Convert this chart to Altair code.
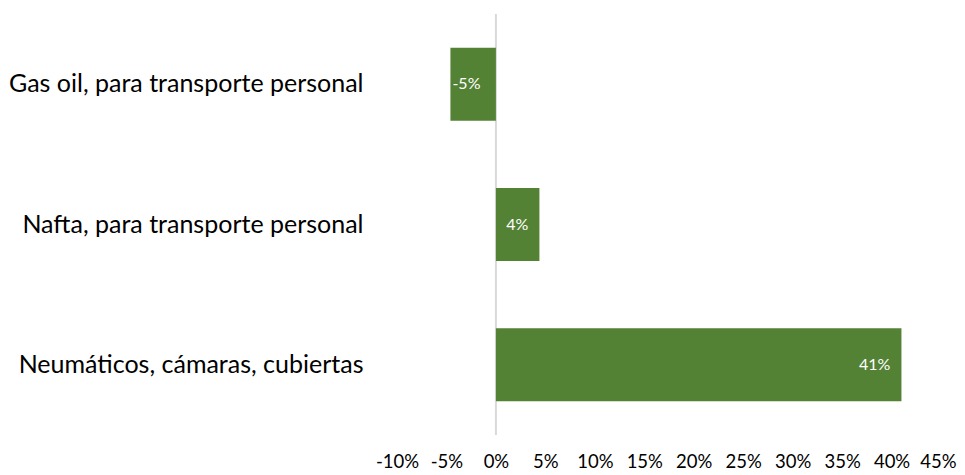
import altair as alt
import pandas as pd

categories = ["Gas oil, para transporte personal",
              "Nafta, para transporte personal",
              "Neumáticos, cámaras, cubiertas"]
values = [-0.046, 0.044, 0.41]
tick_values = [-0.10, -0.05, 0.0, 0.05, 0.10, 0.15, 0.20, 0.25, 0.30, 0.35, 0.40, 0.45]

df = pd.DataFrame({"cat": categories, "val": values})

FONT = "Lato"
GREEN = "#548235"
MINUS_FIX = "replace(format(datum.value, '.0%'), '\u2212', '-')"

x_scale = alt.Scale(domain=[-0.10, 0.45], nice=False, zero=False)
y_enc = alt.Y("cat:N", sort=categories, title=None,
              scale=alt.Scale(paddingInner=0.48, paddingOuter=0.24),
              axis=alt.Axis(domain=False, ticks=False, labelFontSize=25,
                            labelFont=FONT, labelColor="#000000",
                            labelPadding=34, labelLimit=400))

base = alt.Chart(df).transform_calculate(
    lbl="replace(format(datum.val, '.0%'), '\u2212', '-')")

bars = base.mark_bar(color=GREEN).encode(
    x=alt.X("val:Q", scale=x_scale, title=None,
            axis=alt.Axis(values=tick_values, labelExpr=MINUS_FIX, grid=False,
                          domain=False, ticks=False, labelFontSize=18.5,
                          labelFont=FONT, labelColor="#000000",
                          labelPadding=17, labelFlush=False,
                          labelOffset={"condition": {"test": "datum.value > 0.44", "value": -3},
                                       "value": 0})),
    y=y_enc,
)

zero = alt.Chart(pd.DataFrame({"z": [0.0]})).mark_rule(
    color="#d9d9d9", strokeWidth=2).encode(x=alt.X("z:Q", scale=x_scale))

pos_text = base.transform_filter("datum.val >= 0").mark_text(
    align="right", baseline="middle", dx=-11, color="white",
    font=FONT, fontSize=16).encode(
    x=alt.X("val:Q", scale=x_scale),
    y=alt.Y("cat:N", sort=categories),
    text=alt.Text("lbl:N"))

neg_text = base.transform_filter("datum.val < 0").mark_text(
    align="left", baseline="middle", dx=2, color="white",
    font=FONT, fontSize=16).encode(
    x=alt.X("val:Q", scale=x_scale),
    y=alt.Y("cat:N", sort=categories),
    text=alt.Text("lbl:N"))

chart = alt.layer(zero, bars, pos_text, neg_text).properties(
    width=544, height=421,
    background="white",
    autosize=alt.AutoSizeParams(type="none"),
    padding={"left": 389, "top": 6, "right": 16, "bottom": 36},
).configure_view(strokeWidth=0)

chart.save("out.html", embed_options={"renderer": "svg", "actions": False})
